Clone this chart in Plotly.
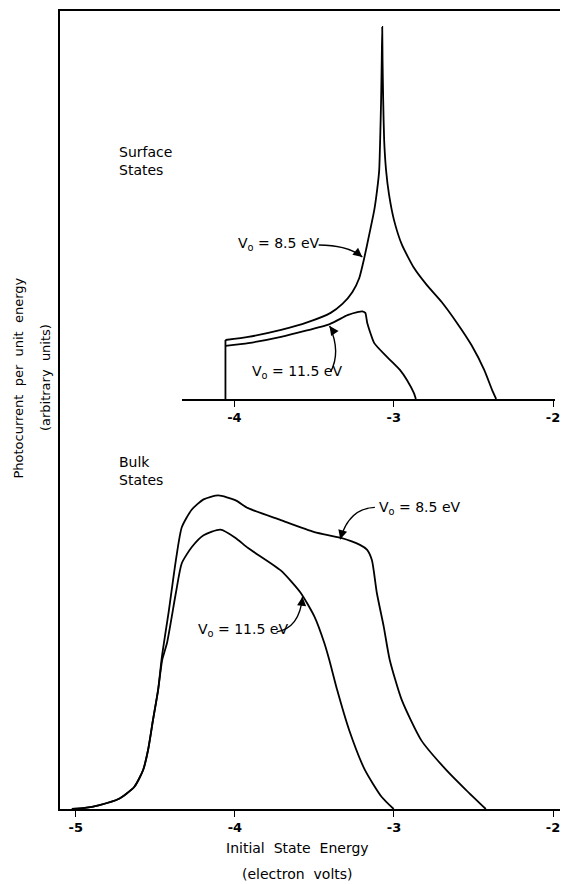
import plotly.graph_objects as go

# ---- Bulk states: photocurrent vs initial state energy (eV) ----
bulk_x_85 = [-5.025, -4.944, -4.851, -4.732, -4.633, -4.577, -4.546, -4.515, -4.483, -4.459,
             -4.415, -4.371, -4.334, -4.272, -4.197, -4.104, -3.998, -3.917, -3.712, -3.500,
             -3.338, -3.214, -3.170, -3.139, -3.108, -3.064, -3.027, -2.952, -2.828, -2.672,
             -2.548, -2.423]
bulk_y_85 = [0, 0.13, 0.5, 1.25, 2.76, 4.89, 7.39, 11.15, 14.9, 19.05,
             24.9, 31.2, 35.3, 37.5, 38.8, 39.3, 38.7, 37.7, 36.2, 34.7,
             34.0, 33.1, 32.5, 31.2, 27.1, 22.8, 18.7, 13.7, 8.6, 4.9,
             2.4, 0]

bulk_x_115 = [-5.025, -4.944, -4.851, -4.732, -4.633, -4.577, -4.546, -4.515, -4.483, -4.457,
              -4.427, -4.371, -4.334, -4.272, -4.197, -4.091, -3.998, -3.917, -3.712, -3.587,
              -3.500, -3.438, -3.407, -3.357, -3.282, -3.183, -3.077, -3.002]
bulk_y_115 = [0, 0.13, 0.5, 1.25, 2.76, 4.89, 7.39, 11.15, 14.9, 18.7,
              20.8, 27.1, 30.8, 32.8, 34.3, 35.0, 34.0, 32.7, 29.9, 27.1,
              24.1, 20.8, 18.7, 14.9, 9.9, 4.9, 1.5, 0]

# ---- Surface states (both curves rise from a common step at the band edge) ----
surf_edge_x = [-4.056, -4.056]
surf_edge_y = [0, 15.2]

surf_x_85 = [-4.056, -3.913, -3.707, -3.539, -3.396, -3.322, -3.259, -3.216, -3.185, -3.154,
             -3.122, -3.104, -3.091, -3.085, -3.079, -3.075, -3.072, -3.070, -3.066, -3.060,
             -3.048, -3.029, -2.998, -2.948, -2.873, -2.793, -2.699, -2.606, -2.512, -2.432,
             -2.382, -2.357]
surf_y_85 = [15.2, 16.0, 17.8, 19.8, 22.2, 24.5, 27.6, 31.2, 36.3, 42.3,
             48.7, 53.9, 59.0, 66.8, 77.1, 87.4, 95.9, 87.4, 77.1, 66.8,
             59.0, 52.6, 46.1, 39.7, 33.8, 29.4, 25.0, 19.8, 13.9, 7.5,
             2.3, 0]

surf_x_115 = [-4.056, -3.913, -3.707, -3.402, -3.290, -3.228, -3.197, -3.178, -3.166,
              -3.122, -3.041, -2.961, -2.917, -2.873, -2.861]
surf_y_115 = [13.7, 14.4, 16.0, 19.3, 21.6, 22.4, 22.6, 22.2, 19.6,
              14.4, 10.8, 7.5, 4.9, 1.5, 0]

main_ticks = [-5, -4, -3, -2]
main_ticktext = ["-5", "-4", "-3", "-2"]
inset_ticks = [-4, -3, -2]
inset_ticktext = ["-4", "-3", "-2"]

FONT = "DejaVu Sans"
INK = "black"
LW = 1.8

fig = go.Figure()

for xs, ys in [(bulk_x_85, bulk_y_85), (bulk_x_115, bulk_y_115)]:
    fig.add_trace(go.Scatter(x=xs, y=ys, mode="lines", xaxis="x", yaxis="y",
                             line=dict(color=INK, width=LW, shape="spline", smoothing=0.6),
                             showlegend=False, hoverinfo="skip"))

fig.add_trace(go.Scatter(x=surf_edge_x, y=surf_edge_y, mode="lines", xaxis="x2", yaxis="y2",
                         line=dict(color=INK, width=LW), showlegend=False, hoverinfo="skip"))
for xs, ys in [(surf_x_85, surf_y_85), (surf_x_115, surf_y_115)]:
    fig.add_trace(go.Scatter(x=xs, y=ys, mode="lines", xaxis="x2", yaxis="y2",
                             line=dict(color=INK, width=LW, shape="spline", smoothing=0.5),
                             showlegend=False, hoverinfo="skip"))

# curved leader lines (quadratic bezier) for the V0 labels
leaders = [
    # (xref, yref, start, control, end, tail offset px)
    ("x", "y", (-3.120, 37.8), (-3.282, 37.7), (-3.338, 33.8), (2.2, -7.7)),
    ("x", "y", (-3.737, 22.2), (-3.593, 22.7), (-3.575, 26.6), (-0.8, 8.0)),
    ("x2", "y2", (-3.471, 39.7), (-3.290, 39.7), (-3.197, 36.6), (-6.2, -5.0)),
    ("x2", "y2", (-3.396, 7.0), (-3.330, 12.0), (-3.402, 18.8), (4.6, 6.6)),
]
for xr, yr, s, c, e, tail in leaders:
    fig.add_shape(type="path", xref=xr, yref=yr,
                  path=f"M {s[0]},{s[1]} Q {c[0]},{c[1]} {e[0]},{e[1]}",
                  line=dict(color=INK, width=1.4))
    fig.add_annotation(x=e[0], y=e[1], xref=xr, yref=yr, ax=tail[0], ay=tail[1],
                       text="", showarrow=True, arrowhead=2, arrowsize=1.3,
                       arrowwidth=1.4, arrowcolor=INK)

labels = [
    ("x", "y", -3.108, 37.7, "V<sub>o</sub> = 8.5 eV"),
    ("x", "y", -4.247, 22.4, "V<sub>o</sub> = 11.5 eV"),
    ("x2", "y2", -3.988, 39.9, "V<sub>o</sub> = 8.5 eV"),
    ("x2", "y2", -3.900, 7.0, "V<sub>o</sub> = 11.5 eV"),
]
for xr, yr, x, y, t in labels:
    fig.add_annotation(x=x, y=y, xref=xr, yref=yr, text=t, showarrow=False,
                       xanchor="left", yanchor="middle",
                       font=dict(family=FONT, size=14, color=INK))

# region captions
fig.add_annotation(x=0.113, y=0.836, xref="paper", yref="paper", text="Surface<br>States",
                   showarrow=False, xanchor="left", yanchor="top", align="left",
                   font=dict(family=FONT, size=14, color=INK))
fig.add_annotation(x=0.113, y=0.447, xref="paper", yref="paper", text="Bulk<br>States",
                   showarrow=False, xanchor="left", yanchor="top", align="left",
                   font=dict(family=FONT, size=14, color=INK))

# axis titles
fig.add_annotation(x=0.474, y=-0.049, xref="paper", yref="paper", text="Initial  State  Energy",
                   showarrow=False, xanchor="center", yanchor="middle",
                   font=dict(family=FONT, size=14, color=INK))
fig.add_annotation(x=0.474, y=-0.081, xref="paper", yref="paper", text="(electron  volts)",
                   showarrow=False, xanchor="center", yanchor="middle",
                   font=dict(family=FONT, size=14, color=INK))
fig.add_annotation(x=-0.083, y=0.54, xref="paper", yref="paper",
                   text="Photocurrent  per  unit  energy",
                   showarrow=False, textangle=-90, xanchor="center", yanchor="middle",
                   font=dict(family=FONT, size=13, color=INK))
fig.add_annotation(x=-0.030, y=0.54, xref="paper", yref="paper",
                   text="(arbitrary  units)",
                   showarrow=False, textangle=-90, xanchor="center", yanchor="middle",
                   font=dict(family=FONT, size=13, color=INK))

TICKFONT = dict(family=FONT, size=13, color=INK, weight="bold")

fig.update_layout(
    width=565, height=884,
    margin=dict(l=60, r=0, t=11, b=75),
    paper_bgcolor="white", plot_bgcolor="white",
    showlegend=False,
    xaxis=dict(range=[-5.0996, -1.9564], showline=True, linecolor=INK, linewidth=1.6,
               mirror=True, showgrid=False, zeroline=False,
               tickvals=main_ticks, ticktext=main_ticktext, ticks="outside",
               ticklen=6, tickwidth=1.4, tickcolor=INK, tickfont=TICKFONT,
               ticklabeloverflow="allow", anchor="y"),
    yaxis=dict(range=[0, 100], showline=True, linecolor=INK, linewidth=1.6,
               showgrid=False, zeroline=False, showticklabels=False, ticks="",
               anchor="x"),
    xaxis2=dict(domain=[0.2436, 0.99], range=[-4.330, -1.9876], anchor="y2",
                showline=True, linecolor=INK, linewidth=1.6, showgrid=False,
                zeroline=False, tickvals=inset_ticks, ticktext=inset_ticktext,
                ticks="outside", ticklen=6, tickwidth=1.4, tickcolor=INK,
                tickfont=TICKFONT, ticklabeloverflow="allow"),
    yaxis2=dict(domain=[0.5138, 1.0], range=[0, 100], anchor="x2", visible=False),
)

fig.write_html("out.html")
